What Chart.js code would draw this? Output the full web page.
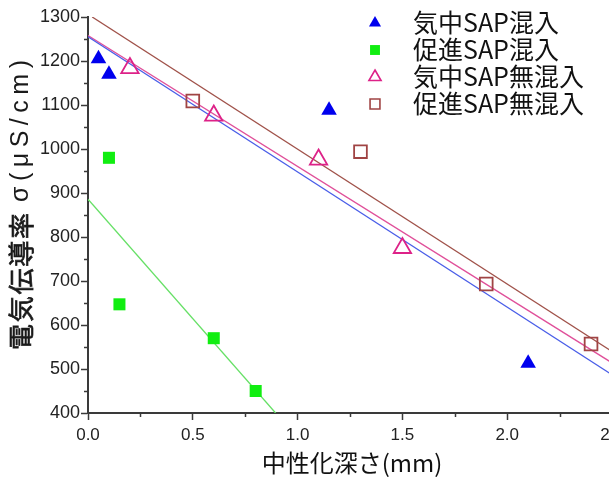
<!DOCTYPE html>
<html>
<head>
<meta charset="utf-8">
<script src="https://cdn.jsdelivr.net/npm/chart.js@4.4.0/dist/chart.umd.min.js"></script>
<style>
  html, body { margin: 0; padding: 0; background: #fff; overflow: hidden; }
  #wrap { width: 640px; height: 479px; }
</style>
</head>
<body>
<div id="wrap"><canvas id="chart" width="640" height="479"></canvas></div>
<script>
'use strict';
// series names (legend order)
const seriesNames = ['気中SAP混入', '促進SAP混入', '気中SAP無混入', '促進SAP無混入'];

// measured points
const airSapX = [0.05, 0.1, 1.15, 2.1];
const airSapY = [1205, 1170, 1088, 513];
const accSapX = [0.1, 0.15, 0.6, 0.8];
const accSapY = [980, 647, 570, 450];
const airNoSapX = [0.2, 0.6, 1.1, 1.5];
const airNoSapY = [1184, 1076, 976, 775];
const accNoSapX = [0.5, 1.3, 1.9, 2.4];
const accNoSapY = [1109, 994, 693, 557];

// fitted lines (end points)
const airSapFitX = [0, 2.5];
const airSapFitY = [1255, 487];
const accSapFitX = [0, 0.895];
const accSapFitY = [886, 400];
const airNoSapFitX = [0, 2.5];
const airNoSapFitY = [1258, 514];
const accNoSapFitX = [0.02, 2.5];
const accNoSapFitY = [1300, 540];

// axes
const xTickLabels = ['0.0', '0.5', '1.0', '1.5', '2.0', '2.5'];
const yTickLabels = ['400', '500', '600', '700', '800', '900', '1000', '1100', '1200', '1300'];
const xMinorTicks = [0.25, 0.75, 1.25, 1.75, 2.25];
const yMinorTicks = [450, 550, 650, 750, 850, 950, 1050, 1150, 1250];
const xTitle = '中性化深さ(mm)';
const yTitleMain = '電気伝導率';
const yTitleUnit = 'σ(μS/cm)';

const axisColor = '#3a3a3a';
const markColors = ['#0000ee', '#11ee11', '#dd2288', '#a04444'];
const lineColors = ['#4a5ee8', '#66e066', '#e0509a', '#a0524a'];
const markStyles = ['triangle', 'rect', 'triangle', 'rect'];
const markFilled = [true, true, false, false];

function toPoints(xs, ys) {
  return xs.map((x, i) => ({ x: x, y: ys[i] }));
}

const pointSets = [[airSapX, airSapY], [accSapX, accSapY], [airNoSapX, airNoSapY], [accNoSapX, accNoSapY]];
const fitSets = [[airSapFitX, airSapFitY], [accSapFitX, accSapFitY], [airNoSapFitX, airNoSapFitY], [accNoSapFitX, accNoSapFitY]];
const markRadius = [9, 8.5, 10, 9];

const datasets = [];
for (let i = 0; i < 4; i++) {
  datasets.push({
    type: 'line',
    label: seriesNames[i] + ' fit',
    data: toPoints(fitSets[i][0], fitSets[i][1]),
    borderColor: lineColors[i],
    borderWidth: 1.3,
    pointRadius: 0,
    fill: false,
    order: 2
  });
}
for (let i = 0; i < 4; i++) {
  datasets.push({
    type: 'scatter',
    label: seriesNames[i],
    data: toPoints(pointSets[i][0], pointSets[i][1]),
    pointStyle: markStyles[i],
    pointRadius: markRadius[i],
    pointBackgroundColor: markFilled[i] ? markColors[i] : 'rgba(255,255,255,0)',
    pointBorderColor: markColors[i],
    pointBorderWidth: markFilled[i] ? 0 : 1.8,
    order: 1
  });
}

function drawMark(ctx, i, x, y, r) {
  ctx.beginPath();
  if (markStyles[i] === 'triangle') {
    ctx.moveTo(x, y - r);
    ctx.lineTo(x + r * 0.866, y + r * 0.5);
    ctx.lineTo(x - r * 0.866, y + r * 0.5);
    ctx.closePath();
  } else {
    const s = r * Math.SQRT1_2;
    ctx.rect(x - s, y - s, 2 * s, 2 * s);
  }
  if (markFilled[i]) {
    ctx.fillStyle = markColors[i];
    ctx.fill();
  } else {
    ctx.strokeStyle = markColors[i];
    ctx.lineWidth = 1.6;
    ctx.stroke();
  }
}

// draws text char by char so that it fills a given length
function spreadText(ctx, text, x0, length, outline) {
  const chars = Array.from(text);
  const widths = chars.map(c => ctx.measureText(c).width);
  const total = widths.reduce((a, b) => a + b, 0);
  const gap = (length - total) / (chars.length - 1);
  let x = x0;
  chars.forEach((c, i) => {
    ctx.fillText(c, x, 0);
    if (outline) ctx.strokeText(c, x, 0);
    x += widths[i] + gap;
  });
}

const decorations = {
  id: 'decorations',
  afterDraw(chart) {
    const ctx = chart.ctx;
    const xs = chart.scales.x;
    const ys = chart.scales.y;
    ctx.save();
    // minor ticks
    ctx.strokeStyle = axisColor;
    ctx.lineWidth = 1.5;
    yMinorTicks.forEach(v => {
      const py = Math.round(ys.getPixelForValue(v)) + 0.5;
      ctx.beginPath();
      ctx.moveTo(xs.left - 4, py);
      ctx.lineTo(xs.left, py);
      ctx.stroke();
    });
    xMinorTicks.forEach(v => {
      const px = Math.round(xs.getPixelForValue(v)) + 0.5;
      ctx.beginPath();
      ctx.moveTo(px, ys.bottom);
      ctx.lineTo(px, ys.bottom + 4);
      ctx.stroke();
    });

    // axis titles
    ctx.fillStyle = '#111';
    ctx.textAlign = 'center';
    ctx.textBaseline = 'middle';
    ctx.font = '24px "Noto Sans CJK JP"';
    ctx.fillText(xTitle, 352, 463);

    ctx.save();
    ctx.translate(21, 350);
    ctx.rotate(-Math.PI / 2);
    ctx.textAlign = 'left';
    ctx.fillStyle = '#1a1a1a';
    ctx.strokeStyle = '#1a1a1a';
    ctx.lineWidth = 0.7;
    ctx.font = '26px "Noto Sans CJK JP"';
    spreadText(ctx, yTitleMain, 0, 137, true);
    ctx.font = '25px "Liberation Sans", Arial';
    spreadText(ctx, yTitleUnit, 148, 142, false);
    ctx.restore();

    // legend
    ctx.textAlign = 'left';
    ctx.font = '25px "Noto Sans CJK JP"';
    for (let i = 0; i < 4; i++) {
      const ly = 22 + i * 27;
      drawMark(ctx, i, 375, ly + 1, 7);
      ctx.fillStyle = '#111';
      ctx.fillText(seriesNames[i], 413, ly);
    }
    ctx.restore();
  }
};

new Chart(document.getElementById('chart'), {
  type: 'scatter',
  data: { datasets: datasets },
  options: {
    responsive: false,
    animation: false,
    layout: { padding: { top: 17, right: 28, left: 0, bottom: 0 } },
    plugins: { legend: { display: false }, tooltip: { enabled: false } },
    scales: {
      x: {
        type: 'linear',
        min: 0,
        max: 2.5,
        afterFit: s => { s.height = 66; },
        border: { display: true, color: axisColor, width: 2 },
        grid: { drawOnChartArea: false, drawTicks: true, tickLength: 7, tickColor: axisColor, tickWidth: 1.5 },
        ticks: {
          stepSize: 0.5,
          padding: 5,
          autoSkip: false,
          maxRotation: 0,
          color: '#222',
          font: { family: '"Liberation Sans", Arial', size: 17 },
          callback: (v, i) => xTickLabels[i]
        }
      },
      y: {
        type: 'linear',
        min: 400,
        max: 1300,
        afterFit: s => { s.width = 88; },
        border: { display: true, color: axisColor, width: 2 },
        grid: { drawOnChartArea: false, drawTicks: true, tickLength: 7, tickColor: axisColor, tickWidth: 1.5 },
        ticks: {
          stepSize: 100,
          padding: 1,
          autoSkip: false,
          color: '#222',
          font: { family: '"Liberation Sans", Arial', size: 18 },
          callback: (v, i) => yTickLabels[i]
        }
      }
    }
  },
  plugins: [decorations]
});
</script>
</body>
</html>
